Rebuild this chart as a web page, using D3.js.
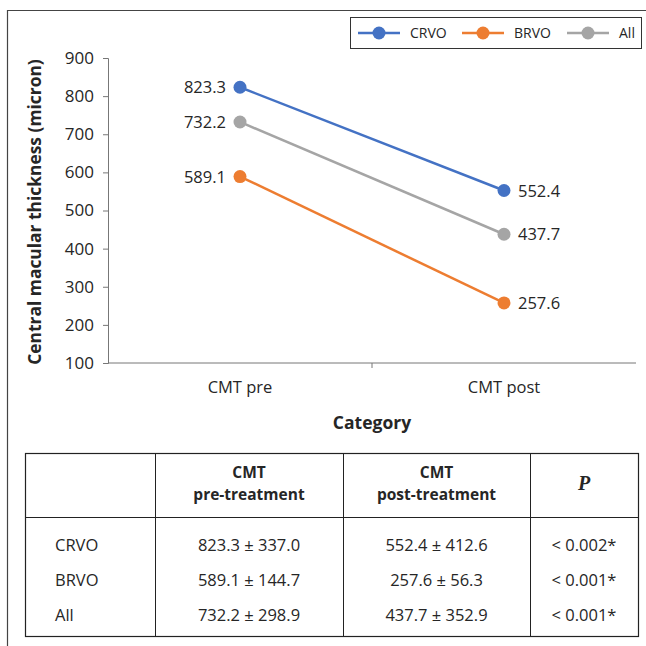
<!DOCTYPE html>
<html>
<head>
<meta charset="utf-8">
<script src="https://cdn.jsdelivr.net/npm/d3@7"></script>
<style>
  body { margin: 0; background: #fff; }
  svg { display: block; font-family: "Open Sans", Lato, sans-serif; }
</style>
</head>
<body>
<div id="view"></div>
<script>
// chart data
const categories = ["CMT pre", "CMT post"];
const seriesNames = ["CRVO", "BRVO", "All"];
const crvoValues = [823.3, 552.4];
const brvoValues = [589.1, 257.6];
const allValues = [732.2, 437.7];
const yTicks = [100, 200, 300, 400, 500, 600, 700, 800, 900];

// table data
const tableHeader = [["", ""], ["CMT", "pre-treatment"], ["CMT", "post-treatment"], ["P", ""]];
const tableRowNames = ["CRVO", "BRVO", "All"];
const preText = ["823.3 ± 337.0", "589.1 ± 144.7", "732.2 ± 298.9"];
const postText = ["552.4 ± 412.6", "257.6 ± 56.3", "437.7 ± 352.9"];
const pText = ["< 0.002*", "< 0.001*", "< 0.001*"];

const colors = { CRVO: "#4472C4", BRVO: "#ED7D31", All: "#A5A5A5" };
const series = [
  { name: "CRVO", values: crvoValues },
  { name: "BRVO", values: brvoValues },
  { name: "All", values: allValues }
];
const ink = "#262626";

const width = 646, height = 646;
const svg = d3.select("#view").append("svg")
  .attr("width", width)
  .attr("height", height);

// outer frame (left + top)
svg.append("path")
  .attr("d", "M7.5,646 L7.5,10.5 L646,10.5")
  .attr("fill", "none")
  .attr("stroke", "#444")
  .attr("stroke-width", 1.2);

const x = d3.scaleBand().domain(categories).range([108, 636]);
const y = d3.scaleLinear().domain([100, 900]).range([363, 58]);

// axes
const yAxis = d3.axisLeft(y).tickValues(yTicks).tickSize(5).tickPadding(9);
const gy = svg.append("g").attr("transform", "translate(108,0)").call(yAxis);
gy.select(".domain").attr("stroke", "#777");
gy.selectAll(".tick line").attr("stroke", "#777");
gy.selectAll(".tick text").attr("font-size", 17).attr("fill", ink)
  .attr("font-family", "'Open Sans', sans-serif");

const gx = svg.append("g").attr("transform", "translate(0,363)");
gx.append("line").attr("x1", 108).attr("x2", 636).attr("stroke", "#777");
gx.selectAll(".sep").data(categories.slice(1)).enter().append("line")
  .attr("x1", d => x(d)).attr("x2", d => x(d))
  .attr("y1", 0).attr("y2", 5).attr("stroke", "#777");
gx.selectAll(".lbl").data(categories).enter().append("text")
  .attr("x", d => x(d) + x.bandwidth() / 2)
  .attr("y", 30)
  .attr("text-anchor", "middle")
  .attr("font-size", 16.5)
  .attr("fill", ink)
  .text(d => d);

// axis titles
svg.append("text")
  .attr("transform", "translate(41,212) rotate(-90)")
  .attr("text-anchor", "middle")
  .attr("font-size", 17.4)
  .attr("font-weight", "bold")
  .attr("fill", ink)
  .text("Central macular thickness (micron)");
svg.append("text")
  .attr("x", 372).attr("y", 429)
  .attr("text-anchor", "middle")
  .attr("font-size", 17.5)
  .attr("font-weight", "bold")
  .attr("fill", ink)
  .text("Category");

// lines + markers + labels
const cx = d => x(d) + x.bandwidth() / 2;
const line = d3.line().x((d, i) => cx(categories[i])).y(d => y(d));
series.forEach(s => {
  svg.append("path")
    .attr("d", line(s.values))
    .attr("fill", "none")
    .attr("stroke", colors[s.name])
    .attr("stroke-width", 2.5);
  svg.selectAll(null).data(s.values).enter().append("circle")
    .attr("cx", (d, i) => cx(categories[i]))
    .attr("cy", d => y(d))
    .attr("r", 6.5)
    .attr("fill", colors[s.name]);
  svg.selectAll(null).data(s.values).enter().append("text")
    .attr("x", (d, i) => i === 0 ? cx(categories[i]) - 14 : cx(categories[i]) + 14)
    .attr("y", d => y(d) + 6)
    .attr("text-anchor", (d, i) => i === 0 ? "end" : "start")
    .attr("font-size", 16.5)
    .attr("fill", ink)
    .text(d => d.toFixed(1));
});

// legend
const legend = svg.append("g");
legend.append("rect")
  .attr("x", 350.5).attr("y", 17.5).attr("width", 291).attr("height", 31)
  .attr("fill", "#fff").attr("stroke", "#333");
const legendX = [358, 462, 567];
seriesNames.forEach((n, i) => {
  const g = legend.append("g").attr("transform", `translate(${legendX[i]},33)`);
  g.append("line").attr("x1", 0).attr("x2", 42).attr("stroke", colors[n]).attr("stroke-width", 2.5);
  g.append("circle").attr("cx", 21).attr("cy", 0).attr("r", 6.5).attr("fill", colors[n]);
  g.append("text").attr("x", 52).attr("y", 5).attr("font-size", 14).attr("fill", ink).text(n);
});

// table
const colEdges = [25, 155, 343, 530, 638];
const rowEdges = [453, 517, 636];
const table = svg.append("g");
table.append("rect")
  .attr("x", colEdges[0] + 0.5).attr("y", rowEdges[0] + 0.5)
  .attr("width", colEdges[4] - colEdges[0]).attr("height", rowEdges[2] - rowEdges[0])
  .attr("fill", "none").attr("stroke", "#222").attr("stroke-width", 1.2);
colEdges.slice(1, 4).forEach(cxv => {
  table.append("line").attr("x1", cxv + 0.5).attr("x2", cxv + 0.5)
    .attr("y1", rowEdges[0]).attr("y2", rowEdges[2]).attr("stroke", "#222");
});
table.append("line").attr("x1", colEdges[0]).attr("x2", colEdges[4])
  .attr("y1", rowEdges[1] + 0.5).attr("y2", rowEdges[1] + 0.5).attr("stroke", "#222");

const colMid = i => (colEdges[i] + colEdges[i + 1]) / 2;
tableHeader.forEach((h, i) => {
  if (i === 3) {
    table.append("text").attr("x", colMid(i)).attr("y", 490)
      .attr("text-anchor", "middle").attr("font-size", 20)
      .attr("font-family", "'Liberation Serif', serif")
      .attr("font-weight", "bold").attr("font-style", "italic")
      .attr("fill", ink).text(h[0]);
  } else if (h[0]) {
    table.append("text").attr("x", colMid(i)).attr("y", 478)
      .attr("text-anchor", "middle").attr("font-size", 15.5).attr("font-weight", "bold")
      .attr("fill", ink).text(h[0]);
    table.append("text").attr("x", colMid(i)).attr("y", 500)
      .attr("text-anchor", "middle").attr("font-size", 15.5).attr("font-weight", "bold")
      .attr("fill", ink).text(h[1]);
  }
});
const rowY = [551, 586, 621];
tableRowNames.forEach((r, i) => {
  table.append("text").attr("x", 55).attr("y", rowY[i]).attr("font-size", 16.5).attr("fill", ink).text(r);
  table.append("text").attr("x", colMid(1)).attr("y", rowY[i]).attr("text-anchor", "middle")
    .attr("font-size", 16.5).attr("fill", ink).text(preText[i]);
  table.append("text").attr("x", colMid(2)).attr("y", rowY[i]).attr("text-anchor", "middle")
    .attr("font-size", 16.5).attr("fill", ink).text(postText[i]);
  table.append("text").attr("x", colMid(3)).attr("y", rowY[i]).attr("text-anchor", "middle")
    .attr("font-size", 16.5).attr("fill", ink).text(pText[i]);
});
</script>
</body>
</html>
